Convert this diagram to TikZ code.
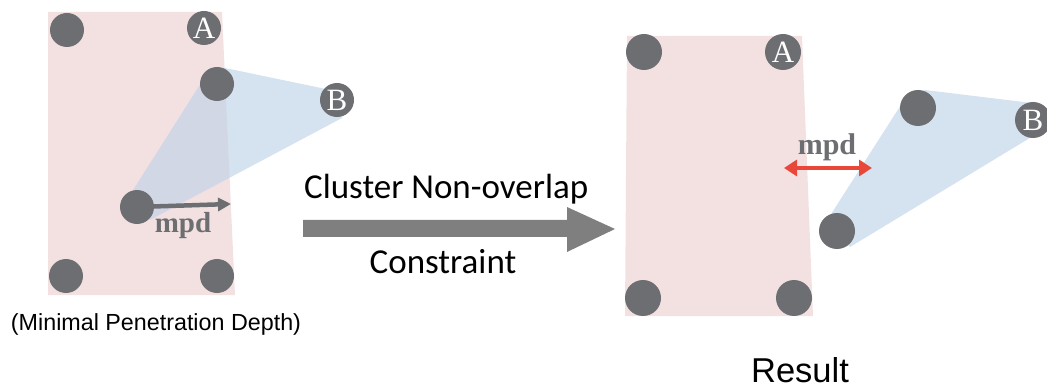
\documentclass[tikz,border=0pt]{standalone}
\usepackage{fontspec}
\usetikzlibrary{arrows.meta}
\newfontfamily\calfont{Carlito}
\newfontfamily\arialfont{Liberation Sans}
\newfontfamily\timesfont{Liberation Serif}
\definecolor{dotgray}{HTML}{6D6E71}
\definecolor{clpink}{HTML}{F3E1E1}
\definecolor{clblue}{HTML}{BFD3E8}
\definecolor{mpdred}{HTML}{E8473A}
\definecolor{bararrow}{HTML}{7F7F7F}
\tikzset{
  dot/.style={circle, fill=dotgray, minimum size=34pt, inner sep=0pt},
  letter/.style={dot, text=white, font=\timesfont\fontsize{31}{31}\selectfont},
  mpdtext/.style={text=dotgray, font=\timesfont\bfseries\fontsize{29}{29}\selectfont},
}
\begin{document}
\begin{tikzpicture}[x=1pt,y=-1pt]
\useasboundingbox (0,0) rectangle (1047,390);
\fill[clpink] (48,12) -- (222,12) -- (235,295) -- (48,295) -- cycle;
\fill[clblue, opacity=0.65] (208,72) -- (225,68) -- (345,93) -- (342,118) -- (150,220) -- (128,198) -- cycle;
\node[dot] (ltl) at (67,30) {};
\node[letter] (la) at (204,28) {A};
\node[dot] (lbt) at (217,84) {};
\node[letter] (lb) at (337,100) {B};
\node[dot] (lbin) at (137,207) {};
\node[dot] (lbl) at (66,276) {};
\node[dot] (lbr) at (217,276) {};
\coordinate (ltip) at (231,204);
\draw[dotgray, line width=4.5pt, -{Triangle[length=13pt,width=13pt]}] (lbin.center) -- (ltip);
\node[mpdtext, anchor=base] (lmpd) at (183,233) {mpd};
\node[font=\arialfont\fontsize{23.3}{24}\selectfont, anchor=base, inner sep=0pt] (cap) at (156,330) {(Minimal Penetration Depth)};
\fill[bararrow] (303,220) -- (567,220) -- (567,207) -- (615,229) -- (567,252) -- (567,237) -- (303,237) -- cycle;
\node[font=\calfont\fontsize{35}{36}\selectfont, anchor=base west, inner sep=0pt] (top) at (304,199) {Cluster Non-overlap};
\node[font=\calfont\fontsize{35}{36}\selectfont, anchor=base, inner sep=0pt] (bot) at (443,273) {Constraint};
\fill[clpink] (627,36) -- (802,36) -- (813,316) -- (625,316) -- cycle;
\fill[clblue, opacity=0.65] (906,97) -- (925,90) -- (1040,104) -- (1043,130) -- (850,247) -- (826,222) -- cycle;
\node[dot, minimum size=36pt] (rtl) at (644,52) {};
\node[letter, minimum size=36pt] (ra) at (783,52) {A};
\node[dot, minimum size=36pt] (rbl) at (643,298) {};
\node[dot, minimum size=36pt] (rbr) at (794,298) {};
\node[dot, minimum size=36pt] (rbt) at (918,108) {};
\node[letter, minimum size=36pt] (rb) at (1033,120) {B};
\node[dot, minimum size=36pt] (rbin) at (837,231) {};
\coordinate (rl) at (784,168);
\coordinate (rr) at (872,168);
\draw[mpdred, line width=4pt, {Triangle[length=13pt,width=16pt]}-{Triangle[length=13pt,width=16pt]}] (rl) -- (rr);
\node[mpdtext, font=\timesfont\bfseries\fontsize{30}{30}\selectfont, anchor=base] (rmpd) at (827,155) {mpd};
\node[font=\arialfont\fontsize{34.5}{35}\selectfont, anchor=base, inner sep=0pt] (res) at (800,382) {Result};
\end{tikzpicture}
\end{document}
